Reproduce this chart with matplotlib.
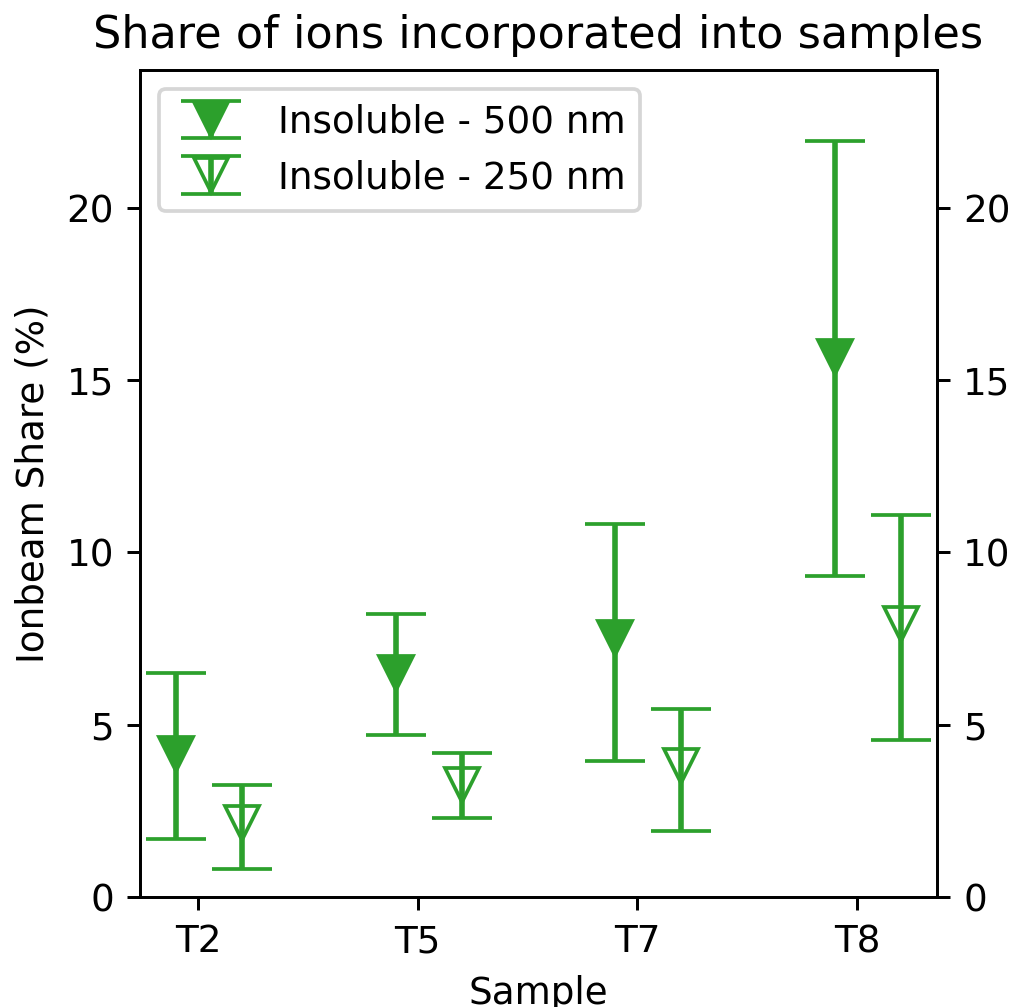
import numpy as np
import matplotlib.pyplot as plt

samples = ['T2', 'T5', 'T7', 'T8']

share_500 = [4.15, 6.50, 7.52, 15.68]
low_500 = [1.69, 4.69, 3.96, 9.33]
high_500 = [6.49, 8.21, 10.82, 21.93]

share_250 = [2.15, 3.25, 3.80, 7.92]
low_250 = [0.82, 2.28, 1.92, 4.56]
high_250 = [3.25, 4.17, 5.45, 11.10]

x = np.arange(len(samples))
green = '#2ca02c'

fig = plt.figure(figsize=(1013/268, 1007/268), dpi=268)
ax = fig.add_axes([140/1013, 1 - 897/1007, (937 - 140)/1013, (897 - 70)/1007])

err_500 = [np.array(share_500) - np.array(low_500), np.array(high_500) - np.array(share_500)]
err_250 = [np.array(share_250) - np.array(low_250), np.array(high_250) - np.array(share_250)]

ax.errorbar(x - 0.1, share_500, yerr=err_500, fmt='v', color=green,
            markersize=9, capsize=8, label='Insoluble - 500 nm')
ax.errorbar(x + 0.2, share_250, yerr=err_250, fmt='v', color=green,
            markerfacecolor='none', markersize=9, capsize=8, label='Insoluble - 250 nm')

ax.set_xticks(x)
ax.set_xticklabels(samples)
ax.set_ylim(0, 24)
ax.set_yticks([0, 5, 10, 15, 20])
ax.tick_params(axis='y', right=True, labelright=True)
ax.set_xlabel('Sample')
ax.set_ylabel('Ionbeam Share (%)')
ax.set_title('Share of ions incorporated into samples')
ax.legend(loc='upper left')

fig.savefig('out.png', dpi=268)
